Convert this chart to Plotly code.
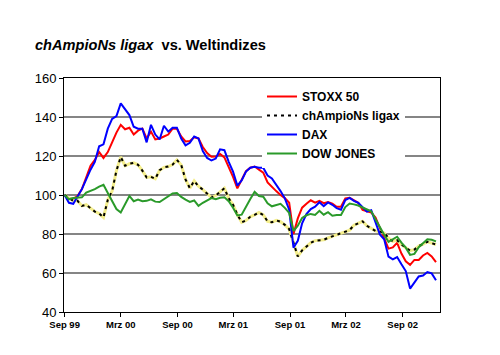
import pandas as pd
import plotly.graph_objects as go

# biweekly observations, indexed to 100 at start (Sep 1999)
start_date = "1999-09-01"

stoxx50 = [100, 98.3, 98, 99.5, 103, 109, 115, 118, 122, 119, 122, 127, 132, 136, 133.7, 134.5, 131, 133, 134, 129,
           132.5, 128.5, 129, 130, 131, 134, 134, 130, 127.5, 127.7, 129.6, 129, 124.6, 121.5, 119.6, 119.7, 121, 119.3, 114.5, 109.3,
           103.4, 107.8, 112.2, 114, 114.6, 113, 111.5, 106.5, 104, 102, 100, 98.4, 96, 80, 88, 93.5, 95.5, 97.3, 96.1, 97,
           95.8, 96.4, 95.6, 94, 94, 98.3, 98.6, 97.3, 96, 92.4, 91.5, 91, 88.5, 83.2, 78.5, 72.5, 73.1, 75.5, 70, 66,
           64.2, 66.7, 66.7, 69, 70.3, 68.5, 65.6]

champions = [100, 98.5, 97, 97, 94.4, 95, 93, 91.5, 90.5, 88.5, 97.5, 102, 112.5, 119.5, 115, 116, 116.5, 115.5, 112.5, 109,
             109.3, 108.3, 112.7, 114.2, 114.6, 115.6, 118, 115.4, 108, 103.5, 107.2, 104.5, 102.8, 100.5, 98.7, 99.7, 101.5, 103.5, 98.3, 95,
             90, 86, 87, 88.8, 89.8, 91, 89.8, 86.5, 86, 87, 86.3, 84.7, 82.5, 75, 68.5, 71.6, 73.5, 75.5, 76.6, 76.9,
             77, 78, 78.8, 79.5, 80, 80.8, 82, 84.5, 85.5, 86.5, 84.2, 82.8, 81.6, 81.2, 80.5, 78, 76.2, 76.8, 74.6, 73,
             71.5, 72, 73.8, 74.8, 76, 75.3, 74.6]

dax = [100, 96, 95.5, 99, 103, 108, 113, 117, 125, 126, 134, 139, 140.5, 147, 144, 141, 135, 134, 134, 127,
       136, 131, 128.5, 135.5, 132.5, 134.5, 134.5, 129, 125.5, 126.8, 130, 129, 122.5, 119, 117.7, 118.7, 123.4, 123, 117, 112,
       104.8, 107.5, 112, 114, 114.5, 114, 114, 110, 108.5, 105.5, 102, 98.3, 92.5, 73, 76.5, 85.5, 90.2, 92.8, 94, 96.3,
       94.3, 96.2, 95, 93.3, 92.5, 97.4, 98.5, 97, 96, 93.7, 91.5, 92.2, 86.5, 79.8, 77.3, 68.4, 67, 68.2, 64.5, 61,
       52, 55, 58.2, 58.7, 60.5, 59.8, 56.3]

dow_jones = [100, 97.8, 98.5, 98.8, 98.8, 101.2, 102, 103, 104.3, 105.2, 101, 96.5, 92.8, 91, 95, 99.5, 96.8, 97.6, 96.8, 97,
             97.8, 96.6, 96.4, 98, 99.4, 100.8, 101, 99, 97.6, 96.5, 97.2, 94.4, 96, 97.3, 98.4, 97.8, 98.6, 98.8, 96.8, 93.5,
             89.5, 89.9, 94.2, 98, 101.6, 99.5, 99.1, 95.8, 94.2, 94.8, 95.5, 93.4, 90.8, 81.5, 84.2, 88.2, 89.6, 90.3, 89.8, 91.9,
             89.9, 91.2, 89.4, 89.7, 89.7, 93.8, 95.6, 95.2, 94.6, 93.6, 92.8, 91.6, 87.6, 83.2, 79.6, 76, 77.3, 78.6, 75.6, 73,
             69.3, 69.8, 73.2, 75.3, 77.3, 77, 76.2]

dates = pd.date_range(start_date, periods=len(stoxx50), freq="14D")

tick_dates = ["1999-09-01", "2000-03-01", "2000-09-01", "2001-03-01", "2001-09-01", "2002-03-01", "2002-09-01"]
tick_labels = ["Sep 99", "Mrz 00", "Sep 00", "Mrz 01", "Sep 01", "Mrz 02", "Sep 02"]

FONT = "Liberation Sans, Arial, sans-serif"

# page body has an 8px offset; figure sized/margined to compensate
W, H = 492, 347
ML, MT, PW, PH = 56, 70, 376, 234

fig = go.Figure()
fig.add_trace(go.Scatter(x=dates, y=stoxx50, mode="lines", name="STOXX 50",
                         line=dict(color="#FF0000", width=2)))
fig.add_trace(go.Scatter(x=dates, y=champions, mode="lines", name="chAmpioNs ligax",
                         line=dict(color="#F4EE8C", width=3), showlegend=False, legendgroup="champ"))
fig.add_trace(go.Scatter(x=dates, y=champions, mode="lines", name="chAmpioNs ligax",
                         line=dict(color="#000000", width=2, dash="3px,4px"), legendgroup="champ"))
fig.add_trace(go.Scatter(x=dates, y=dax, mode="lines", name="DAX",
                         line=dict(color="#0000FF", width=2)))
fig.add_trace(go.Scatter(x=dates, y=dow_jones, mode="lines", name="DOW JONES",
                         line=dict(color="#2A9A2A", width=2)))

fig.update_layout(
    width=W, height=H,
    margin=dict(l=ML, r=W - ML - PW, t=MT, b=H - MT - PH),
    paper_bgcolor="white", plot_bgcolor="white",
    font=dict(family=FONT, color="black"),
    title=dict(text="<b><i>chAmpioNs ligax</i>  vs. Weltindizes</b>",
               xref="container", yref="container", x=(35 - 8) / W, xanchor="left",
               y=1 - (45 - 8) / H, yanchor="middle",
               font=dict(family=FONT, size=14.6, color="black")),
    showlegend=True,
    legend=dict(x=(254 - ML) / PW, y=(MT + PH - 74) / PH, xanchor="left", yanchor="top",
                bgcolor="white", borderwidth=0, itemwidth=30,
                font=dict(family=FONT, size=12, color="black", weight="bold"), tracegroupgap=0),
    xaxis=dict(type="date", range=["1999-08-30", "2002-12-31"],
               tickvals=tick_dates, ticktext=tick_labels,
               tickfont=dict(family=FONT, size=9.5, color="black", weight="bold"),
               showgrid=False, showline=True, linecolor="black", linewidth=1, mirror=True,
               ticks="outside", ticklen=4, tickcolor="black", zeroline=False),
    yaxis=dict(range=[40, 160], dtick=20, tick0=40,
               tickfont=dict(family=FONT, size=13, color="black"),
               showgrid=True, gridcolor="#858585", gridwidth=1.5,
               showline=True, linecolor="black", linewidth=1, mirror=True,
               ticks="outside", ticklen=4, tickcolor="black", zeroline=False),
)

fig.write_html("out.html")
